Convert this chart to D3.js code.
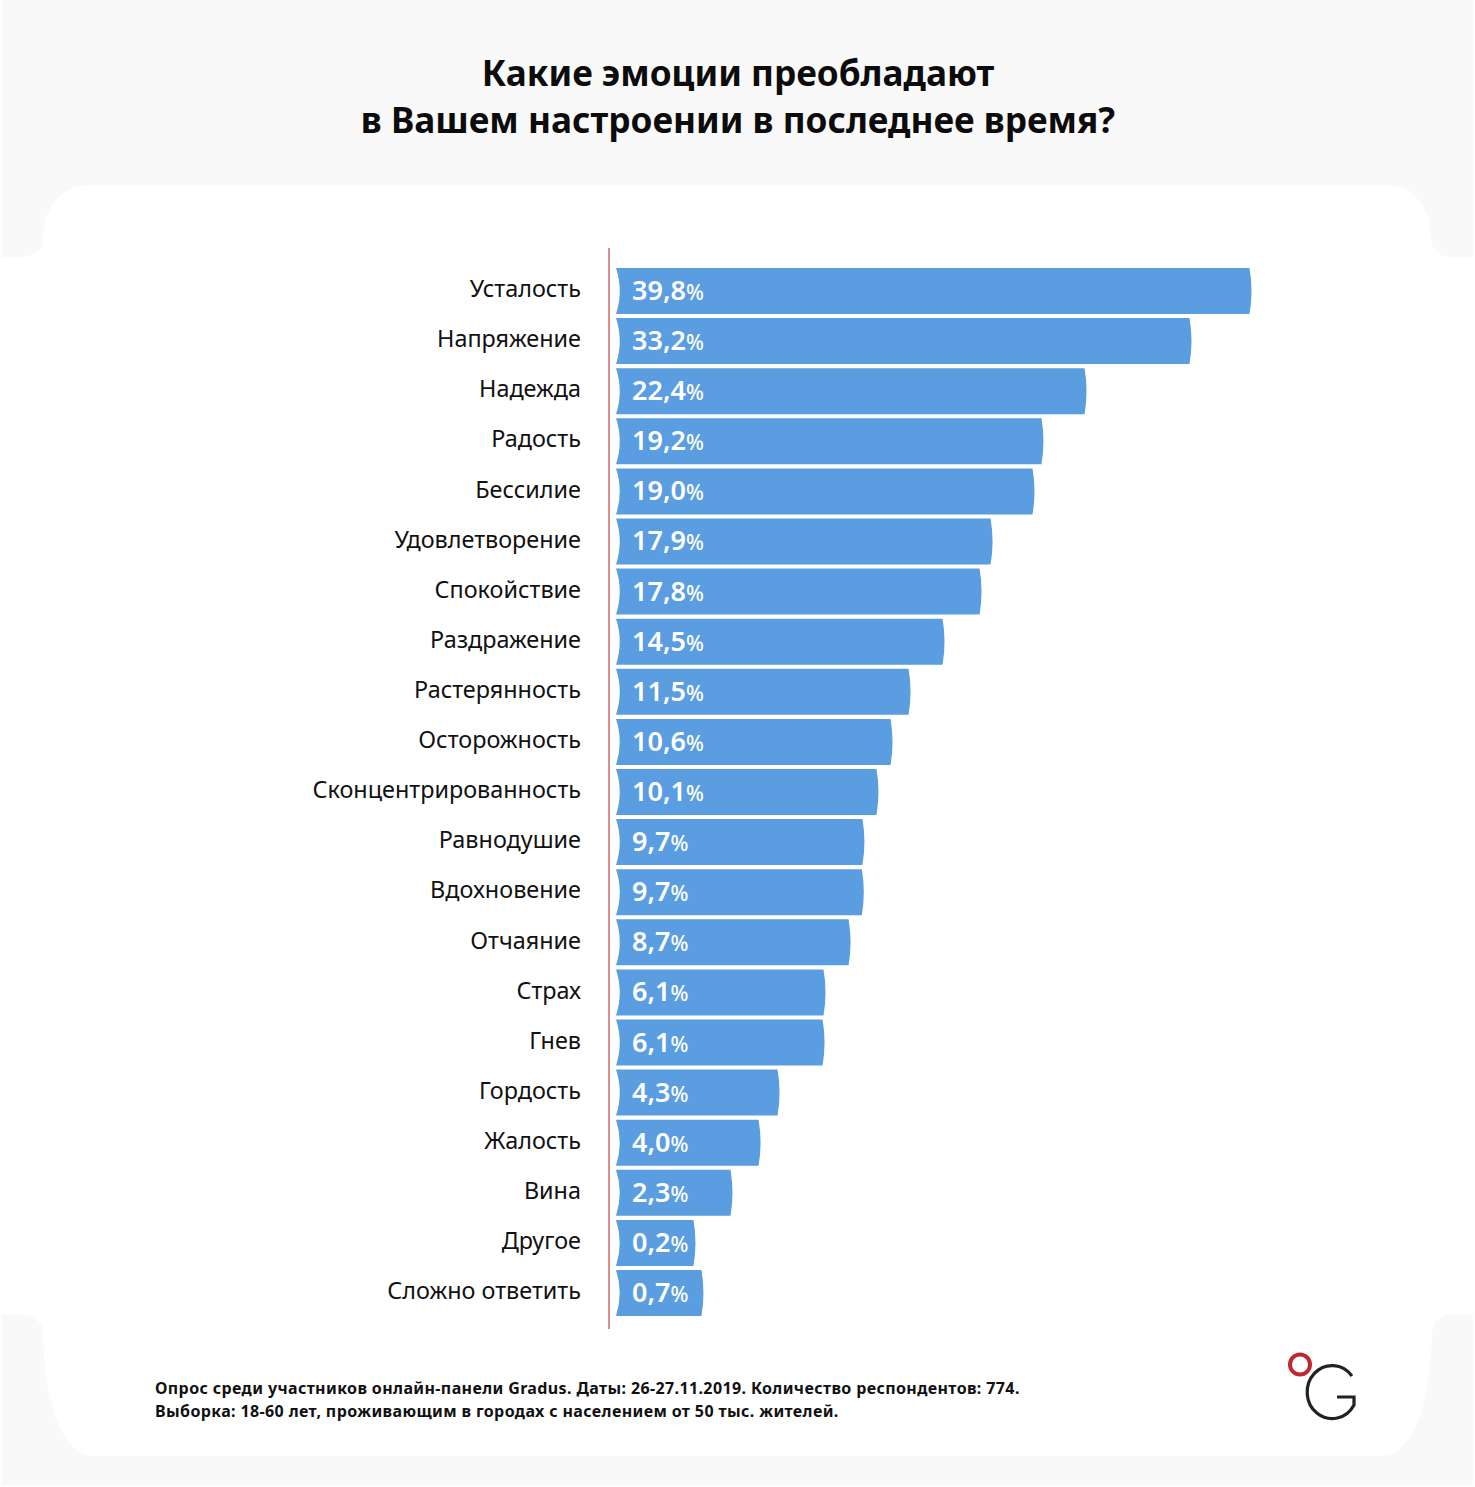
<!DOCTYPE html>
<html><head><meta charset="utf-8">
<script src="https://cdn.jsdelivr.net/npm/d3@7"></script>
<style>html,body{margin:0;padding:0;background:#fff}svg{display:block}text{font-family:"Noto Sans",sans-serif}</style>
</head><body><svg id="c" width="1475" height="1487"></svg>
<script>
const categories=["Усталость","Напряжение","Надежда","Радость","Бессилие","Удовлетворение","Спокойствие","Раздражение","Растерянность","Осторожность","Сконцентрированность","Равнодушие","Вдохновение","Отчаяние","Страх","Гнев","Гордость","Жалость","Вина","Другое","Сложно ответить"];
// Printed labels
const values=["39,8","33,2","22,4","19,2","19,0","17,9","17,8","14,5","11,5","10,6","10,1","9,7","9,7","8,7","6,1","6,1","4,3","4,0","2,3","0,2","0,7"];
// Bar lengths as drawn in the picture (the original's bars are not proportional to their printed labels)
const barLengths=[39.8,36.04,29.46,26.76,26.2,23.57,22.88,20.56,18.43,17.3,16.42,15.54,15.5,14.67,13.1,13.04,10.22,9.03,7.27,4.95,5.45];
const titleLines=["Какие эмоции преобладают","в Вашем настроении в последнее время?"];
const noteLines=["Опрос среди участников онлайн-панели Gradus. Даты: 26-27.11.2019. Количество респондентов: 774.","Выборка: 18-60 лет, проживающим в городах с населением от 50 тыс. жителей."];

const svg=d3.select("#c");
svg.append("rect").attr("x",2).attr("y",0).attr("width",1471).attr("height",1485).attr("fill","#f9f9f9");
svg.append("path").attr("fill","#fff").attr("d","M90 185 L1385 185 C1415 185 1431 210 1431 237 C1431 250 1440 257 1452 257 L1475 257 L1475 1315 L1452 1315 C1440 1315 1432 1322 1432 1335 C1430 1400 1415 1456 1380 1456 L95 1456 C60 1456 45 1400 43 1335 C43 1322 35 1315 22 1315 L0 1315 L0 257 L22 257 C35 257 43 250 43 237 C43 210 60 185 90 185 Z");

svg.selectAll(".title").data(titleLines).join("text").attr("class","title")
 .attr("x",738).attr("y",(d,i)=>86+i*47).attr("text-anchor","middle")
 .attr("font-size",35.2).attr("font-weight",700).attr("fill","#0c0c0c").text(d=>d);

const x=d3.scaleLinear().domain([0,39.8]).range([616,1251]);
const y=d3.scaleBand().domain(categories).range([268,1316]).paddingInner(0.082).paddingOuter(0);
const bw=y.bandwidth();

svg.selectAll(".bar").data(categories).join("path").attr("class","bar").attr("fill","#5a9de0")
 .attr("d",(c,i)=>{const t=y(c),b=t+bw,r=x(barLengths[i]);
   return `M616 ${t} L${r-1.5} ${t} Q${r+2.5} ${t+bw/2} ${r-1.5} ${b} L616 ${b} Q623.5 ${t+bw/2} 616 ${t} Z`;});

const ax=d3.axisLeft(y).tickSize(0).tickPadding(28);
const g=svg.append("g").attr("transform","translate(609,-1.3)").call(ax);
g.select(".domain").remove();
g.selectAll("text").attr("font-size",23.4).attr("fill","#111").style("font-family",'"Noto Sans",sans-serif');

svg.append("line").attr("x1",609).attr("x2",609).attr("y1",y.range()[0]-20).attr("y2",y.range()[1]+13).attr("stroke","#dc8f8f").attr("stroke-width",2);

const lab=svg.selectAll(".val").data(categories).join("text").attr("class","val")
 .attr("x",632).attr("y",c=>y(c)+bw/2+9).attr("fill","#fff").attr("font-weight",600).attr("font-size",27);
lab.append("tspan").text((c,i)=>values[i]);
lab.append("tspan").attr("font-size",21).attr("font-weight",500).text("%");

svg.selectAll(".note").data(noteLines).join("text").attr("class","note")
 .attr("x",155).attr("y",(d,i)=>1394+i*23).attr("font-size",16).attr("letter-spacing",0.38).attr("font-weight",700).attr("fill","#111").text(d=>d);

svg.append("circle").attr("cx",1300).attr("cy",1364.5).attr("r",10).attr("fill","none").attr("stroke","#c1272d").attr("stroke-width",4);
svg.append("path").attr("fill","none").attr("stroke","#222").attr("stroke-width",3.2)
 .attr("d","M1352 1376 A25 26.5 0 1 0 1354 1405 L1354 1397 L1337 1397");
</script></body></html>
